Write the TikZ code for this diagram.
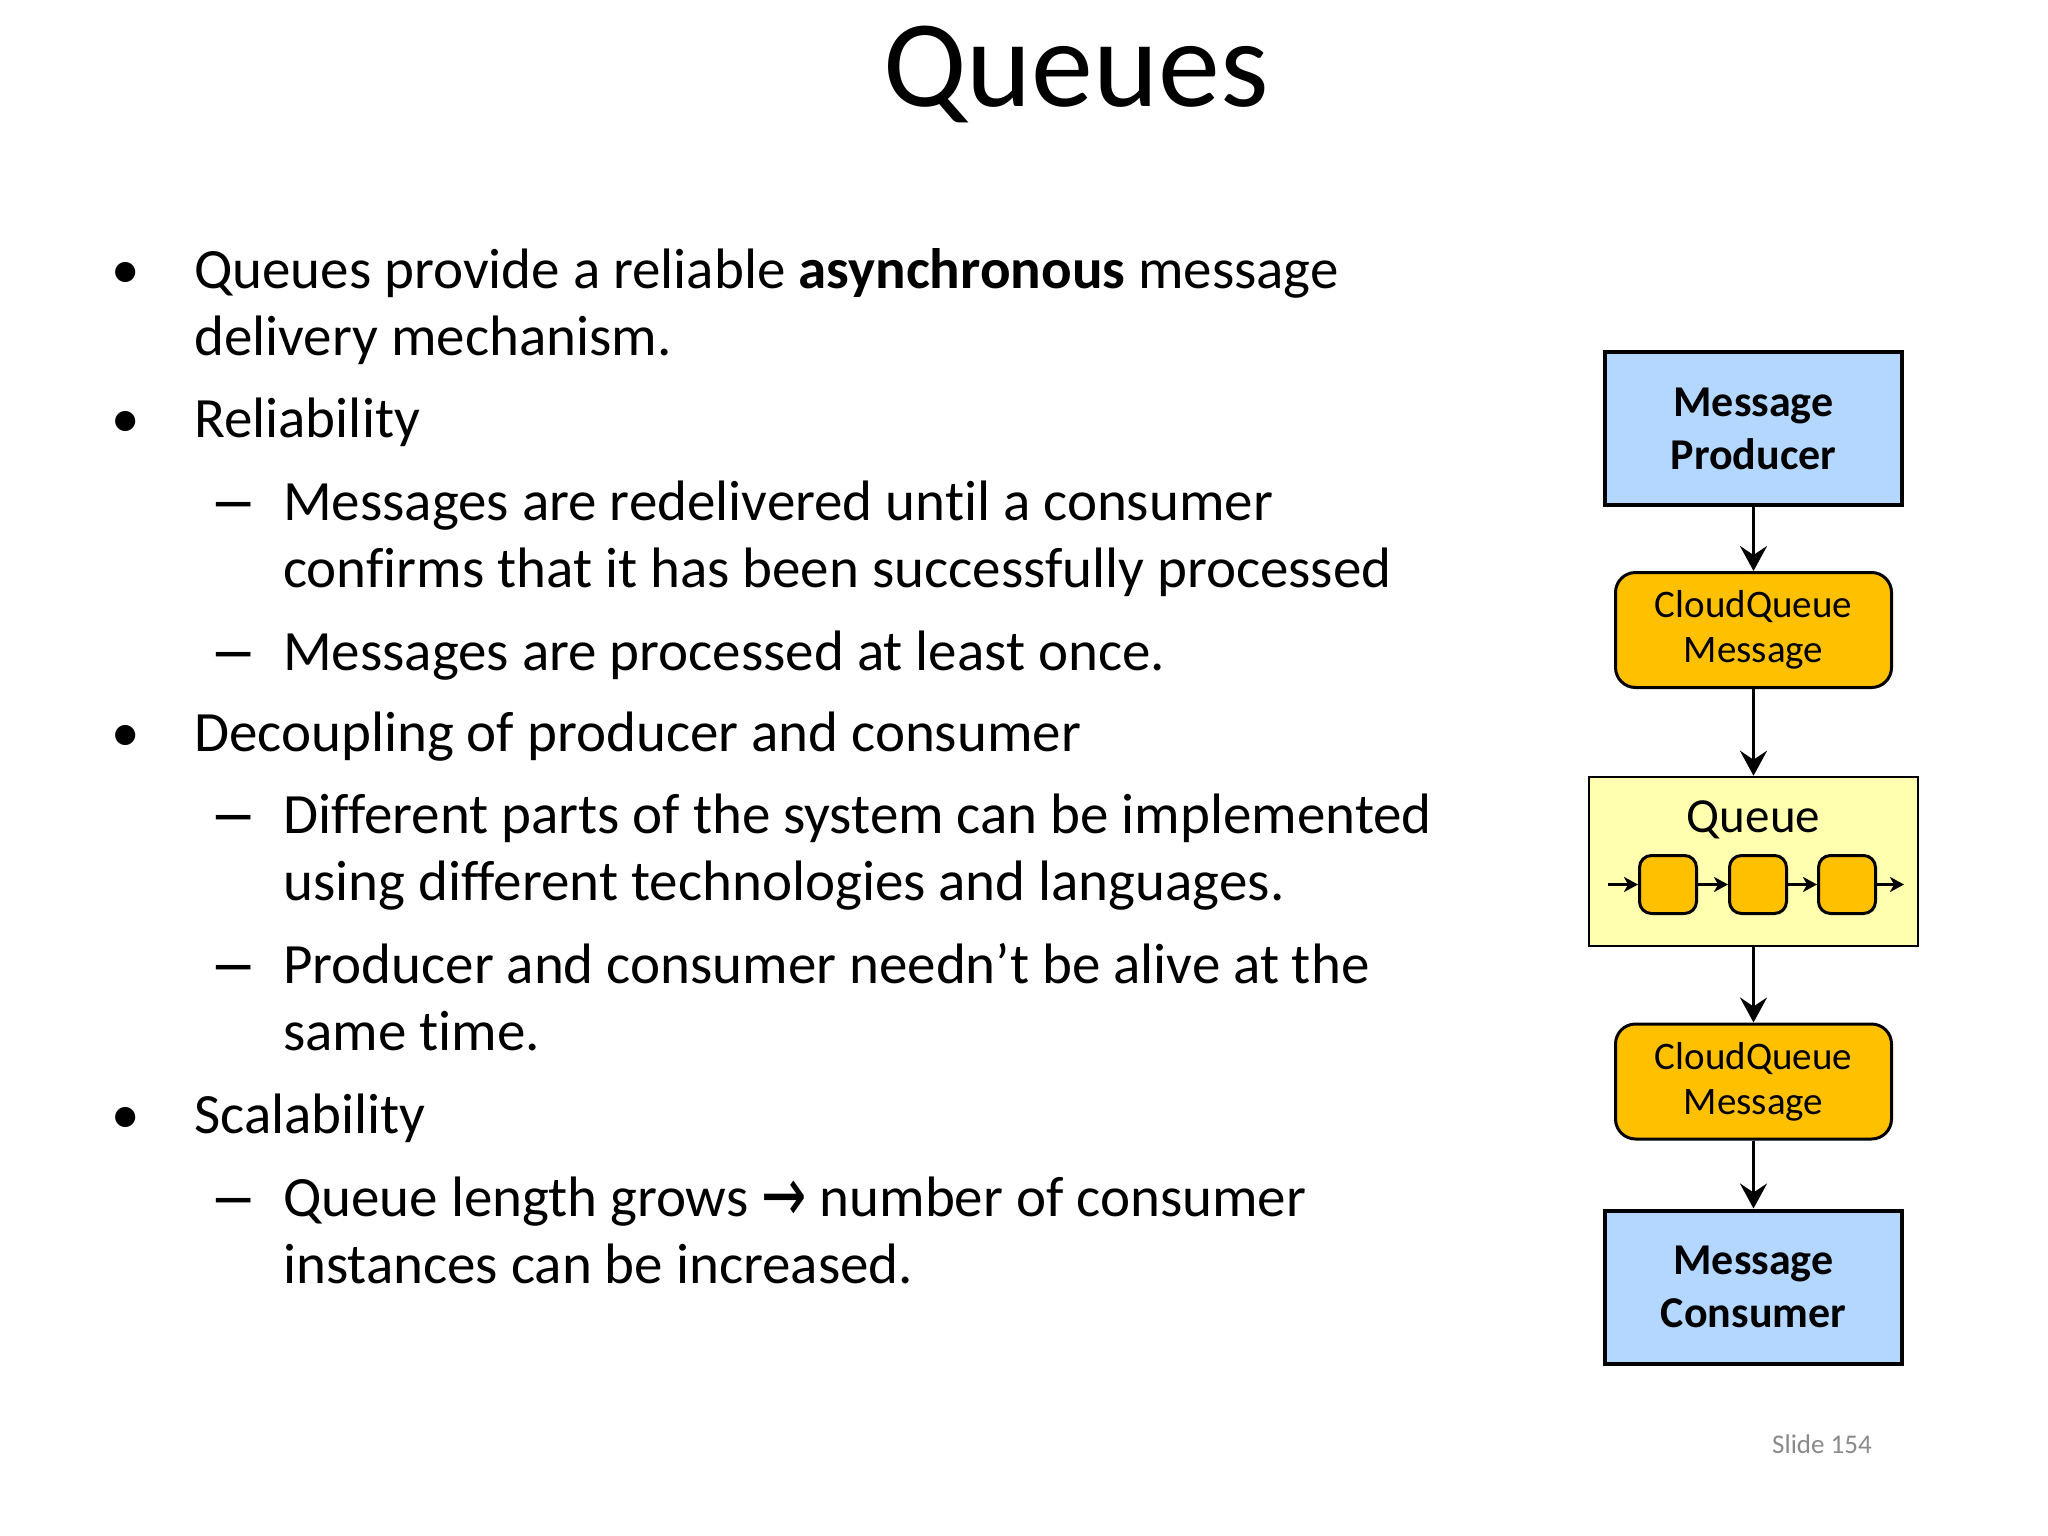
\documentclass[tikz,border=0pt]{standalone}
\usepackage{fontspec}
\setmainfont{Carlito}[Ligatures=NoCommon]
\newfontfamily\dejavu{DejaVu Sans}
\usetikzlibrary{arrows.meta}

\definecolor{boxblue}{HTML}{B3D7FF}
\definecolor{cqorange}{HTML}{FFC000}
\definecolor{qyellow}{HTML}{FFFFAF}
\definecolor{slidegray}{HTML}{8A8A8A}

\newcommand{\longdash}{\raisebox{-4pt}{\scalebox{1.7}[1.25]{–}}}
\newcommand{\textarrowmark}{\raisebox{-5pt}{\scalebox{0.95}[1.35]{\dejavu →}}}

\tikzset{
  titletext/.style={anchor=base, inner sep=0pt, font=\fontsize{124}{140}\selectfont},
  bodytext/.style={anchor=base west, inner sep=0pt, font=\fontsize{57}{67}\selectfont},
  marktext/.style={anchor=base, inner sep=0pt, font=\fontsize{57}{67}\selectfont},
  mainbox/.style={draw=black, line width=4pt, fill=boxblue, minimum width=297pt,
    minimum height=153pt, inner sep=0pt, align=center,
    font=\bfseries\fontsize{44}{53}\selectfont},
  cqbox/.style={draw=black, line width=3pt, fill=cqorange, rounded corners=20pt,
    minimum width=276pt, minimum height=115pt, inner sep=0pt, align=center,
    font=\fontsize{39}{45}\selectfont},
  queuebox/.style={draw=black, line width=2.5pt, fill=qyellow, minimum width=329pt,
    minimum height=169pt, inner sep=0pt},
  slotbox/.style={draw=black, line width=3pt, fill=cqorange, rounded corners=12pt,
    minimum width=57pt, minimum height=58pt, inner sep=0pt},
  conn/.style={line width=3.5pt, -{Stealth[length=25pt,width=27pt,inset=9pt]}},
  slotarrow/.style={line width=3pt, -{Stealth[length=14pt,width=15pt,inset=4pt]}},
}

\begin{document}
\begin{tikzpicture}[x=1pt,y=-1pt]
\useasboundingbox (0,0) rectangle (2048,1536);
\fill[white] (0,0) rectangle (2048,1536);

% Title
\node[titletext] (title) at (1076,107) {Queues};

% Bullets and dashes
\node[marktext] (b1) at (126,288) {•};
\node[marktext] (b2) at (126,437) {•};
\node[marktext] (b3) at (126,751) {•};
\node[marktext] (b4) at (126,1133) {•};
\node[marktext] (d1) at (234,520) {\longdash};
\node[marktext] (d2) at (234,670) {\longdash};
\node[marktext] (d3) at (234,833) {\longdash};
\node[marktext] (d4) at (234,983) {\longdash};
\node[marktext] (d5) at (234,1216) {\longdash};

% Body text
\node[bodytext] (t1) at (194,288) {Queues provide a reliable \textbf{asynchronous} message};
\node[bodytext] (t2) at (194,355) {delivery mechanism.};
\node[bodytext] (t3) at (194,437) {Reliability};
\node[bodytext] (t4) at (283,520) {Messages are redelivered until a consumer};
\node[bodytext] (t5) at (283,587) {confirms that it has been successfully processed};
\node[bodytext] (t6) at (283,670) {Messages are processed at least once.};
\node[bodytext] (t7) at (194,751) {Decoupling of producer and consumer};
\node[bodytext] (t8) at (283,833) {Different parts of the system can be implemented};
\node[bodytext] (t9) at (283,900) {using different technologies and languages.};
\node[bodytext] (t10) at (283,983) {Producer and consumer needn’t be alive at the};
\node[bodytext] (t11) at (283,1050) {same time.};
\node[bodytext] (t12) at (194,1133) {Scalability};
\node[bodytext] (t13) at (283,1216) {Queue length grows \textarrowmark{} number of consumer};
\node[bodytext] (t14) at (283,1283) {instances can be increased.};

% Diagram
\node[mainbox] (prod) at (1753.5,428.5) {Message\\Producer};
\node[cqbox] (cq1) at (1753.5,630) {CloudQueue\\Message};
\node[queuebox] (queue) at (1753.5,861.5) {};
\node[anchor=base, inner sep=0pt, font=\fontsize{49}{56}\selectfont] (qlabel) at (1753.5,832) {Queue};
\node[slotbox] (s1) at (1668,884.5) {};
\node[slotbox] (s2) at (1758,884.5) {};
\node[slotbox] (s3) at (1847,884.5) {};
\coordinate (qin) at (1608,884.5);
\coordinate (qout) at (1904,884.5);
\node[cqbox] (cq2) at (1753.5,1081.5) {CloudQueue\\Message};
\node[mainbox] (cons) at (1753.5,1287) {Message\\Consumer};

\draw[slotarrow] (qin) -- (s1.west);
\draw[slotarrow] (s1.east) -- (s2.west);
\draw[slotarrow] (s2.east) -- (s3.west);
\draw[slotarrow] (s3.east) -- (qout);

\draw[conn] (prod.south) -- (cq1.north);
\draw[conn] (cq1.south) -- (queue.north);
\draw[conn] (queue.south) -- (cq2.north);
\draw[conn] (cq2.south) -- (cons.north);

% Slide number
\node[anchor=base, inner sep=0pt, text=slidegray, font=\fontsize{27}{32}\selectfont] (slideno) at (1822,1453) {Slide 154};
\end{tikzpicture}
\end{document}
